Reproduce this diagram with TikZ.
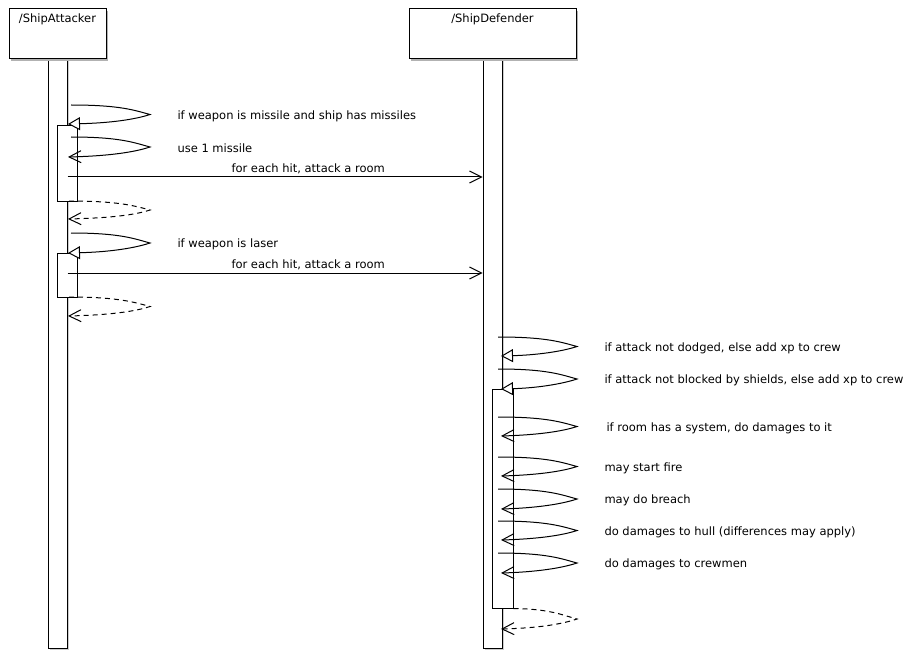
\documentclass[tikz,border=0pt]{standalone}
\usepackage{fontspec}
\setmainfont{DejaVu Sans}
\usetikzlibrary{arrows.meta,shadows,positioning}

\begin{document}
\begin{tikzpicture}
  [
  x=1pt, y=-1pt, line width=1pt, font=\fontsize{11.5}{13}\selectfont,
  header/.style={rectangle, minimum height=50pt, draw=black, fill=white, inner sep=0pt, drop shadow={shadow xshift=2pt, shadow yshift=-2pt, fill=gray!60, opacity=1}},
  lifeline/.style={rectangle, minimum height=589pt, minimum width=19pt, draw=black, fill=white, inner sep=0pt, drop shadow={shadow xshift=2pt, shadow yshift=-2pt, fill=gray!40, opacity=1}},
  activation/.style={rectangle, minimum width=20pt, draw=black, fill=white, inner sep=0pt},
  barb/.style={-{Straight Barb[length=12pt,width=12pt]}},
  hollow/.style={-{Triangle[length=12pt,width=13pt,fill=white]}},
  reply/.style={barb, dash pattern=on 5pt off 4pt},
  note/.style={anchor=west, inner sep=0pt}
  ]

\useasboundingbox (0,0) rectangle (912,663);

% objects and lifelines
\node[lifeline] (aline) at (57.5,353.5) {};
\node[lifeline] (dline) at (492.5,353.5) {};
\node[header, minimum width=97pt, label={[below=1pt]north:/ShipAttacker}] (att) at (57.5,34) {};
\node[header, minimum width=167pt, label={[below=1pt]north:/ShipDefender}] (def) at (492.5,34) {};

\node[activation, minimum height=75pt] (act1) at (67,163.5) {};
\node[activation, minimum height=44pt] (act2) at (67,275) {};
\node[activation, minimum height=219pt, minimum width=21pt] (act3) at (502.5,498.5) {};

% attacker self calls
\foreach \ys/\ye/\tip/\txt in {105/124/hollow/{if weapon is missile and ship has missiles},
                              137/157/barb/{use 1 missile},
                              233/253/hollow/{if weapon is laser}} {
  \draw[\tip] (71,\ys) .. controls (121,\ys) and (135,{(\ys+\ye)/2-4}) .. (150,{(\ys+\ye)/2})
    .. controls (135,{(\ys+\ye)/2+5}) and (110,{\ye-1}) .. (68,\ye);
  \node[note] at (177,{(\ys+\ye)/2+1.5}) {\txt};
}

\foreach \ys/\ye in {201/219, 297/316} {
  \draw[reply] (69,\ys) .. controls (119,\ys) and (135,{(\ys+\ye)/2-4}) .. (150,{(\ys+\ye)/2})
    .. controls (135,{(\ys+\ye)/2+5}) and (110,{\ye-1}) .. (68,\ye);
}

% calls to the defender
\draw[barb] (aline.east |- 0,177) -- node[above, pos=0.58, inner sep=3pt] {for each hit, attack a room} (dline.west |- 0,177);
\draw[barb] (aline.east |- 0,273) -- node[above, pos=0.58, inner sep=3pt] {for each hit, attack a room} (dline.west |- 0,273);

% defender self calls
\foreach \ys/\ye/\tip/\tx/\txt in {337/356/hollow/604/{if attack not dodged, else add xp to crew},
                                  369/389/hollow/604/{if attack not blocked by shields, else add xp to crew},
                                  417/436/barb/606/{if room has a system, do damages to it},
                                  457/476/barb/604/{may start fire},
                                  489/509/barb/604/{may do breach},
                                  521/540/barb/604/{do damages to hull (differences may apply)},
                                  553/573/barb/604/{do damages to crewmen}} {
  \draw[\tip] (498,\ys) .. controls (548,\ys) and (562,{(\ys+\ye)/2-4}) .. (577,{(\ys+\ye)/2})
    .. controls (562,{(\ys+\ye)/2+5}) and (537,{\ye-1}) .. (501,\ye);
  \node[note] at (\tx,{(\ys+\ye)/2+1.5}) {\txt};
}

\draw[reply] (act3.south east) .. controls (550,609) and (562,615) .. (577,619)
  .. controls (562,624) and (540,628) .. (501,629);

\end{tikzpicture}
\end{document}
